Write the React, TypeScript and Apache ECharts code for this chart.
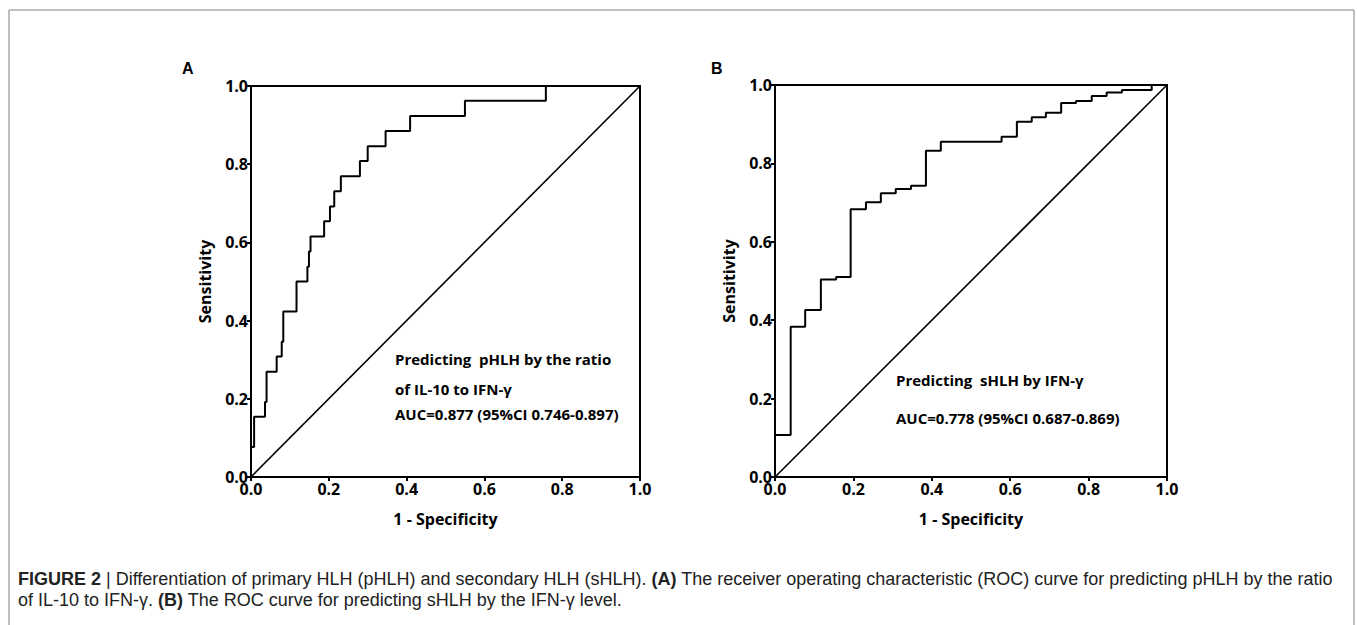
import React, { useEffect, useRef } from "react";
import * as echarts from "echarts";

// Panel A: ROC for predicting pHLH by ratio IL-10/IFN-γ (vertices: x = 1-specificity, y = sensitivity)
const fprA = [0, 0, 0.008, 0.036, 0.04, 0.066, 0.079, 0.083, 0.117, 0.145, 0.149, 0.153, 0.188, 0.203, 0.214, 0.231, 0.28, 0.3, 0.346, 0.409, 0.55, 0.758, 1.0];
const tprA = [0, 0.077, 0.154, 0.192, 0.269, 0.308, 0.346, 0.423, 0.5, 0.538, 0.577, 0.615, 0.654, 0.692, 0.731, 0.769, 0.808, 0.846, 0.885, 0.923, 0.962, 1.0, 1.0];

// Panel B: ROC for predicting sHLH by IFN-γ
const fprB = [0, 0, 0.04, 0.077, 0.117, 0.156, 0.193, 0.232, 0.27, 0.308, 0.347, 0.385, 0.423, 0.578, 0.617, 0.655, 0.691, 0.73, 0.768, 0.808, 0.846, 0.885, 0.961, 1.0];
const tprB = [0, 0.107, 0.383, 0.426, 0.504, 0.51, 0.683, 0.701, 0.724, 0.735, 0.743, 0.832, 0.855, 0.868, 0.906, 0.918, 0.929, 0.954, 0.959, 0.972, 0.981, 0.987, 1.0, 1.0];

const refLine = [0, 1];

const annotA = ["Predicting  pHLH by the ratio", "of IL-10 to IFN-γ", "AUC=0.877 (95%CI 0.746-0.897)"];
const annotB = ["Predicting  sHLH by IFN-γ", "AUC=0.778 (95%CI 0.687-0.869)"];
const panelLabels = ["A", "B"];
const xName = "1 - Specificity";
const yName = "Sensitivity";
const captionLine1 =
  "{b|FIGURE 2} | Differentiation of primary HLH (pHLH) and secondary HLH (sHLH). {b|(A)} The receiver operating characteristic (ROC) curve for predicting pHLH by the ratio";
const captionLine2 = "of IL-10 to IFN-γ. {b|(B)} The ROC curve for predicting sHLH by the IFN-γ level.";

const AX_FONT = "'Open Sans', 'DejaVu Sans', sans-serif";
const CAP_FONT = "'Liberation Sans', Arial, sans-serif";

function zip(xs: number[], ys: number[]) {
  return xs.map((x, i) => [x, ys[i]]);
}

export default function App() {
  const ref = useRef<HTMLDivElement>(null);
  useEffect(() => {
    if (!ref.current) return;
    const chart = echarts.init(ref.current, null, { renderer: "svg" });
    const grids = [
      { left: 251, top: 86, width: 389, height: 391 },
      { left: 775, top: 85, width: 392, height: 392 },
    ];
    const mkX = (gi: number, main: boolean) => ({
      type: "value",
      gridIndex: gi,
      min: 0,
      max: 1,
      interval: 0.2,
      name: main ? xName : "",
      nameLocation: "middle",
      nameGap: 34,
      nameTextStyle: { fontFamily: AX_FONT, fontWeight: "bold", fontSize: 16, color: "#000" },
      axisLine: { show: main, lineStyle: { color: "#000", width: 2 } },
      axisTick: { show: true, inside: !main, length: 4, lineStyle: { color: "#000", width: 2 } },
      axisLabel: {
        show: main,
        margin: 4,
        fontFamily: AX_FONT,
        fontWeight: "bold",
        fontSize: 16,
        color: "#000",
        formatter: (v: number) => v.toFixed(1),
      },
      splitLine: { show: false },
    });
    const mkY = (gi: number, main: boolean) => ({
      type: "value",
      gridIndex: gi,
      min: 0,
      max: 1,
      interval: 0.2,
      name: main ? yName : "",
      nameLocation: "middle",
      nameGap: 38,
      nameTextStyle: { fontFamily: AX_FONT, fontWeight: "bold", fontSize: 16, color: "#000" },
      axisLine: { show: main, lineStyle: { color: "#000", width: 2 } },
      axisTick: { show: true, inside: !main, length: 4, lineStyle: { color: "#000", width: 2 } },
      axisLabel: {
        show: main,
        margin: 3,
        fontFamily: AX_FONT,
        fontWeight: "bold",
        fontSize: 16,
        color: "#000",
        formatter: (v: number) => v.toFixed(1),
      },
      splitLine: { show: false },
    });

    const lineSeries = (xi: number, data: number[][], step: any, w: number) => ({
      type: "line",
      xAxisIndex: xi,
      yAxisIndex: xi,
      data,
      step,
      symbol: "none",
      lineStyle: { color: "#000", width: w },
      silent: true,
    });

    const annot = (lines: string[], x: number, ys: number[]) =>
      lines.map((t, i) => ({
        type: "text",
        left: x,
        top: ys[i],
        style: { text: t, fontFamily: AX_FONT, fontWeight: "bold", fontSize: 15, fill: "#000" },
      }));

    const cap = (text: string, top: number) => ({
      type: "text",
      left: 18,
      top,
      style: {
        text,
        fontFamily: CAP_FONT,
        fontSize: 18,
        fill: "#222",
        rich: { b: { fontWeight: "bold", fontFamily: CAP_FONT, fontSize: 18, fill: "#222" } },
      },
    });

    chart.setOption({
      animation: false,
      grid: grids.map((g) => ({ ...g, show: true, borderColor: "#000", borderWidth: 2, backgroundColor: "transparent" })),
      xAxis: [mkX(0, true), mkX(1, true), mkX(0, false), mkX(1, false)],
      yAxis: [mkY(0, true), mkY(1, true), mkY(0, false), mkY(1, false)],
      series: [
        lineSeries(0, zip(refLine, refLine), false, 1.6),
        lineSeries(0, zip(fprA, tprA), "end", 2),
        lineSeries(1, zip(refLine, refLine), false, 1.6),
        lineSeries(1, zip(fprB, tprB), "end", 2),
      ],
      graphic: [
        { type: "line", shape: { x1: 9, y1: 10, x2: 1354, y2: 10 }, style: { stroke: "#aaa", lineWidth: 1.5 } },
        { type: "line", shape: { x1: 9, y1: 10, x2: 9, y2: 625 }, style: { stroke: "#aaa", lineWidth: 1.5 } },
        { type: "line", shape: { x1: 1354, y1: 10, x2: 1354, y2: 625 }, style: { stroke: "#aaa", lineWidth: 1.5 } },
        {
          type: "text",
          left: 182,
          top: 60,
          style: { text: panelLabels[0], fontFamily: CAP_FONT, fontWeight: "bold", fontSize: 16, fill: "#000" },
        },
        {
          type: "text",
          left: 711,
          top: 60,
          style: { text: panelLabels[1], fontFamily: CAP_FONT, fontWeight: "bold", fontSize: 16, fill: "#000" },
        },
        ...annot(annotA, 395, [351, 381, 406]),
        ...annot(annotB, 896, [372, 410]),
        cap(captionLine1, 570),
        cap(captionLine2, 591),
      ],
    });
    return () => chart.dispose();
  }, []);
  return (
    <div
      ref={ref}
      style={{ position: "fixed", left: 0, top: 0, width: 1357, height: 625, background: "#fff" }}
    />
  );
}
